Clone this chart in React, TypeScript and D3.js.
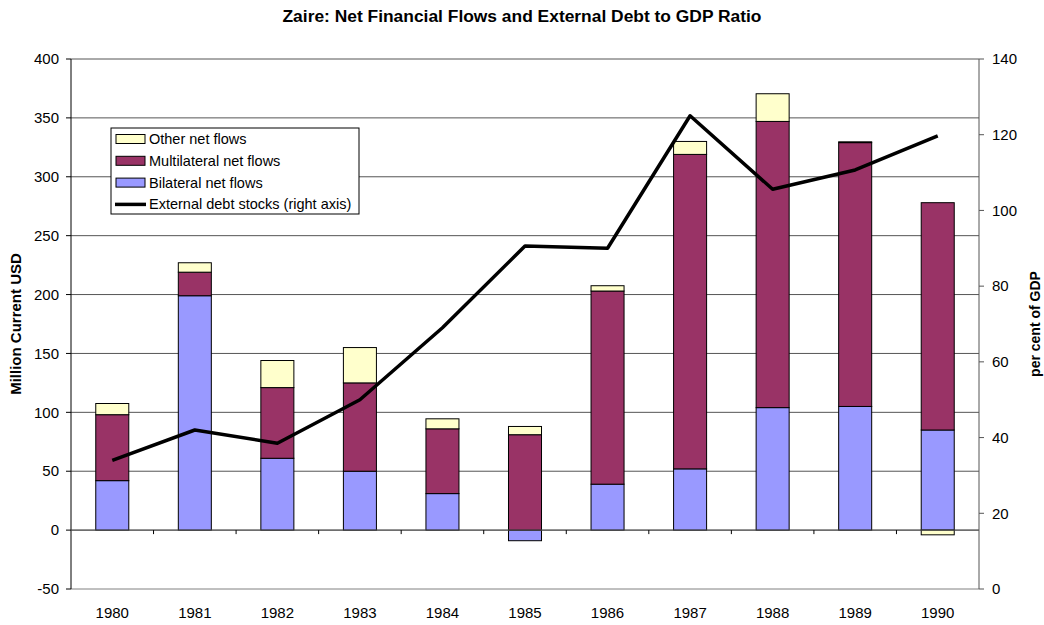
import React from "react";
import * as d3 from "d3";

const years = ["1980","1981","1982","1983","1984","1985","1986","1987","1988","1989","1990"];
const bilateral = [42, 199, 61, 50, 31, -9, 39, 52, 104, 105, 85];
const multilateral = [56, 20, 60, 75, 55, 81, 164, 267, 243, 224, 193];
const other = [9.5, 8, 23, 30, 8.5, 7, 4.5, 11, 23.5, 0.7, -4];
const debtRatio = [34, 42, 38.5, 50, 69, 90.6, 90, 125, 105.6, 110.7, 119.7];
const leftTicks = [-50, 0, 50, 100, 150, 200, 250, 300, 350, 400];
const rightTicks = [0, 20, 40, 60, 80, 100, 120, 140];

const W = 1044, H = 625;
const M = { left: 71, right: 979, top: 59, bottom: 589 };
const FONT = "Liberation Sans, Arial, sans-serif";

const seriesDefs = [
  { name: "Bilateral net flows", values: bilateral, color: "#9999FF" },
  { name: "Multilateral net flows", values: multilateral, color: "#993366" },
  { name: "Other net flows", values: other, color: "#FFFFCC" },
];

export default function App() {
  const xc = d3.scaleBand().domain(years).range([M.left, M.right]);
  const y = d3.scaleLinear().domain([-50, 400]).range([M.bottom, M.top]);
  const y2 = d3.scaleLinear().domain([0, 140]).range([M.bottom, M.top]);

  const rects: any[] = [];
  years.forEach((yr, i) => {
    let pos = 0, neg = 0;
    seriesDefs.forEach((s, si) => {
      const v = s.values[i];
      let y0, y1;
      if (v >= 0) { y0 = pos; y1 = pos + v; pos = y1; }
      else { y0 = neg; y1 = neg + v; neg = y1; }
      const top = y(Math.max(y0, y1));
      const bot = y(Math.min(y0, y1));
      const bw = xc.bandwidth() * 0.4;
      const cx = (xc(yr) as number) + xc.bandwidth() / 2;
      rects.push(
        <rect key={yr + si} x={cx - bw / 2} y={top} width={bw} height={Math.max(bot - top, 0.5)}
          fill={s.color} stroke="#000" strokeWidth={1} />
      );
    });
  });

  const line = d3.line<number>()
    .x((_, i) => (xc(years[i]) as number) + xc.bandwidth() / 2)
    .y((d) => y2(d));

  const legendItems = [
    { label: "Other net flows", color: "#FFFFCC", type: "box" },
    { label: "Multilateral net flows", color: "#993366", type: "box" },
    { label: "Bilateral net flows", color: "#9999FF", type: "box" },
    { label: "External debt stocks (right axis)", color: "#000", type: "line" },
  ];

  return (
    <svg width={W} height={H} style={{ position: "absolute", left: 0, top: 0, fontFamily: FONT }}>
      <rect width={W} height={H} fill="#fff" />
      <text x={522} y={22} textAnchor="middle" fontSize={17.4} fontWeight="bold">
        Zaire: Net Financial Flows and External Debt to GDP Ratio
      </text>
      {leftTicks.map((t) => (
        <line key={"g" + t} x1={M.left} x2={M.right} y1={y(t)} y2={y(t)} stroke={t === -50 ? "#808080" : "#555"} strokeWidth={1} />
      ))}
      <line x1={M.left} x2={M.left} y1={M.top} y2={M.bottom} stroke="#000" />
      {leftTicks.map((t) => (
        <g key={"l" + t}>
          <line x1={M.left - 5} x2={M.left} y1={y(t)} y2={y(t)} stroke="#000" />
          <text x={M.left - 12} y={y(t)} dy="0.35em" textAnchor="end" fontSize={15}>{t}</text>
        </g>
      ))}
      <line x1={M.right} x2={M.right} y1={M.top} y2={M.bottom} stroke="#555" />
      {rightTicks.map((t) => (
        <g key={"r" + t}>
          <line x1={M.right} x2={M.right + 5} y1={y2(t)} y2={y2(t)} stroke="#555" />
          <text x={M.right + 13} y={y2(t)} dy="0.35em" textAnchor="start" fontSize={15}>{t}</text>
        </g>
      ))}
      {rects}
      <line x1={M.left} x2={M.right} y1={y(0)} y2={y(0)} stroke="#555" />
      {years.map((yr, i) => i > 0 ? (
        <line key={"xt" + yr} x1={xc(yr)} x2={xc(yr)} y1={y(0)} y2={y(0) + 4} stroke="#000" />
      ) : null)}
      <path d={line(debtRatio) || ""} fill="none" stroke="#000" strokeWidth={3.5} strokeLinejoin="round" />
      {years.map((yr) => (
        <text key={"xl" + yr} x={(xc(yr) as number) + xc.bandwidth() / 2} y={618} textAnchor="middle" fontSize={15}>{yr}</text>
      ))}
      <text transform={`translate(21,324) rotate(-90)`} textAnchor="middle" fontSize={15} fontWeight="bold">Million Current USD</text>
      <text transform={`translate(1040,324) rotate(-90)`} textAnchor="middle" fontSize={14} fontWeight="bold">per cent of GDP</text>
      <rect x={111} y={128} width={248} height={86} fill="#fff" stroke="#000" />
      {legendItems.map((it, i) => {
        const cy = 139 + i * 21.8;
        return (
          <g key={"lg" + i}>
            {it.type === "box" ? (
              <rect x={116} y={cy - 4.5} width={29} height={9} fill={it.color} stroke="#000" />
            ) : (
              <line x1={115} x2={146} y1={cy} y2={cy} stroke="#000" strokeWidth={3.5} />
            )}
            <text x={149} y={cy} dy="0.35em" fontSize={14.5}>{it.label}</text>
          </g>
        );
      })}
    </svg>
  );
}
